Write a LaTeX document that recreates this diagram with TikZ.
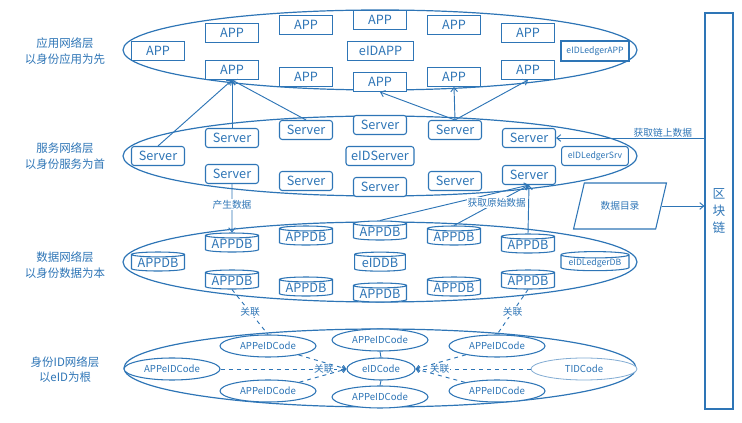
\documentclass[tikz,border=0pt]{standalone}
\usepackage{fontspec}
\setmainfont{Noto Sans CJK SC}
\usepackage{tikz}
\usetikzlibrary{shapes.geometric,arrows.meta}
\definecolor{netblue}{RGB}{46,117,182}
\tikzset{
  box/.style={draw=netblue, fill=white, text=netblue, line width=0.8pt, minimum width=39.75pt, minimum height=14.25pt, inner sep=0pt, font=\fontsize{9.5}{10}\selectfont},
  srv/.style={box, rounded corners=2pt},
  db/.style={box, cylinder, shape border rotate=90, aspect=0.12},
  code/.style={ellipse, draw=netblue, fill=white, text=netblue, line width=0.8pt, minimum width=72pt, minimum height=16.5pt, inner sep=0pt, font=\fontsize{7.2}{8}\selectfont},
  smalltext/.style={font=\fontsize{6.5}{7}\selectfont},
  layer/.style={draw=netblue, line width=0.9pt},
  lbl/.style={text=netblue, font=\fontsize{7.3}{8}\selectfont, fill=white, inner sep=0.5pt},
  side/.style={text=netblue, align=center, font=\fontsize{8.6}{11.5}\selectfont},
  arr/.style={draw=netblue, line width=0.7pt, -{Straight Barb[length=3pt,width=5pt]}},
  link/.style={draw=netblue, line width=0.7pt, dashed}
}
\begin{document}
\begin{tikzpicture}[x=0.75pt,y=-0.75pt]
\useasboundingbox (0,0) rectangle (742,423);
% layers
\draw[layer] (380,50) ellipse [x radius=192.75pt, y radius=30pt];
\draw[layer] (380,156) ellipse [x radius=192.75pt, y radius=30pt];
\draw[layer] (380,262) ellipse [x radius=192.75pt, y radius=30pt];
\draw[layer] (380,368) ellipse [x radius=192pt, y radius=29.25pt];
\node[side] (sideapp) at (65,51) {应用网络层\\以身份应用为先};
\node[side] (sidesrv) at (65,156) {服务网络层\\以身份服务为首};
\node[side] (sidedb) at (65,265) {数据网络层\\以身份数据为本};
\node[side] (sideid) at (65,369.5) {身份ID网络层\\以eID为根};
% application layer
\node[box] (app1) at (158,51) {APP};
\node[box] (app2) at (232,33) {APP};
\node[box] (app3) at (232,70) {APP};
\node[box] (app4) at (306,25) {APP};
\node[box] (app5) at (306,77) {APP};
\node[box] (app6) at (380,20) {APP};
\node[box, minimum width=50pt] (eidapp) at (380.5,51) {eIDAPP};
\node[box] (app7) at (380,82) {APP};
\node[box] (app8) at (454,25) {APP};
\node[box] (app9) at (454,77) {APP};
\node[box] (app10) at (528,33) {APP};
\node[box] (app11) at (528,70) {APP};
\node[box, smalltext, minimum width=51pt, minimum height=15pt] (ledgerapp) at (595,51) {eIDLedgerAPP};
% service layer
\node[srv] (srv1) at (158,156) {Server};
\node[srv] (srv2) at (232,138) {Server};
\node[srv] (srv3) at (232,174) {Server};
\node[srv] (srv4) at (306,130) {Server};
\node[srv] (srv5) at (306,181) {Server};
\node[srv] (srv6) at (380,125) {Server};
\node[srv, minimum width=51pt] (eidsrv) at (380,156) {eIDServer};
\node[srv] (srv7) at (380,187) {Server};
\node[srv] (srv8) at (455,130) {Server};
\node[srv] (srv9) at (455,181) {Server};
\node[srv] (srv10) at (529,138) {Server};
\node[srv] (srv11) at (529,175) {Server};
\node[srv, smalltext, minimum width=50pt] (ledgersrv) at (595,156) {eIDLedgerSrv};
% data layer
\node[db] (db1) at (158,263) {APPDB};
\node[db] (db2) at (232,244) {APPDB};
\node[db] (db3) at (232,281) {APPDB};
\node[db] (db4) at (306,237) {APPDB};
\node[db] (db5) at (306,288) {APPDB};
\node[db] (db6) at (380,232) {APPDB};
\node[db, minimum width=38pt] (eiddb) at (380,263) {eIDDB};
\node[db] (db7) at (380,294) {APPDB};
\node[db] (db8) at (454,237) {APPDB};
\node[db] (db9) at (454,288) {APPDB};
\node[db] (db10) at (528,245) {APPDB};
\node[db] (db11) at (528,281) {APPDB};
\node[db, smalltext, minimum width=51pt, minimum height=12.75pt] (ledgerdb) at (595,263) {eIDLedgerDB};
% id layer
\node[code] (code1) at (172,369) {APPeIDCode};
\node[code] (code2) at (268,346) {APPeIDCode};
\node[code] (code3) at (268,391) {APPeIDCode};
\node[code] (code4) at (380,340) {APPeIDCode};
\node[code, minimum width=51pt] (eidcode) at (381,369) {eIDCode};
\node[code] (code5) at (380,397) {APPeIDCode};
\node[code] (code6) at (497,346) {APPeIDCode};
\node[code] (code7) at (497,391) {APPeIDCode};
\node[code, draw=netblue!60, line width=0.6pt, minimum width=79.5pt] (tidcode) at (584,369) {TIDCode};
% chain
\node[draw=netblue, line width=0.8pt, text=netblue, minimum width=21pt, minimum height=297pt, inner sep=0pt, align=center, font=\fontsize{9.5}{12.75}\selectfont] (chain) at (719,211) {区\\块\\链};
\node[trapezium, trapezium left angle=68, trapezium right angle=112, trapezium stretches=true, draw=netblue, line width=0.8pt, text=netblue, minimum width=69.75pt, minimum height=34.5pt, font=\fontsize{7.3}{8}\selectfont] (catalog) at (620,206) {数据目录};
% arrows
\draw[arr] (srv1.north) -- (app3.south);
\draw[arr] (srv2.north) -- (app3.south);
\draw[arr] (srv4.north) -- (app3.south);
\draw[arr] (srv8.north) -- (app7.south);
\draw[arr] (srv8.north) -- (app9.south);
\draw[arr] (srv8.north) -- (app11.south);
\draw[arr] (chain.west |- srv10.east) -- node[pos=0.28, above=-0.5pt, lbl, fill=none] {获取链上数据} (srv10.east);
\draw[arr] (catalog.east) -- (catalog.east -| chain.west);
\draw[arr] (srv3.south) -- node[pos=0.42, lbl] {产生数据} (db2.north);
\draw[arr] (db6.north) -- (srv11.south);
\draw[arr] (db10.north) -- (srv11.south);
\draw[arr] (db8.north) -- node[pos=0.57, lbl] {获取原始数据} (srv11.south);
% links
\draw[link] (db3.south) -- node[lbl] {关联} (code2.north);
\draw[link] (db11.south) -- node[lbl] {关联} (code6.north);
\draw[link, solid] (code4.south) -- (eidcode.north);
\draw[link, solid] (eidcode.south) -- (code5.north);
\draw[link, -{Straight Barb[length=2.5pt,width=4pt]}] (code1.east) -- node[pos=0.82, lbl] {关联} (eidcode.west);
\draw[link, -{Straight Barb[length=2.5pt,width=4pt]}] (code2) -- (eidcode.west);
\draw[link, -{Straight Barb[length=2.5pt,width=4pt]}] (code3) -- (eidcode.west);
\draw[link, -{Straight Barb[length=2.5pt,width=4pt]}] (tidcode.west) -- node[pos=0.79, lbl] {关联} (eidcode.east);
\draw[link, -{Straight Barb[length=2.5pt,width=4pt]}] (code6) -- (eidcode.east);
\draw[link, -{Straight Barb[length=2.5pt,width=4pt]}] (code7) -- (eidcode.east);
\end{tikzpicture}
\end{document}
